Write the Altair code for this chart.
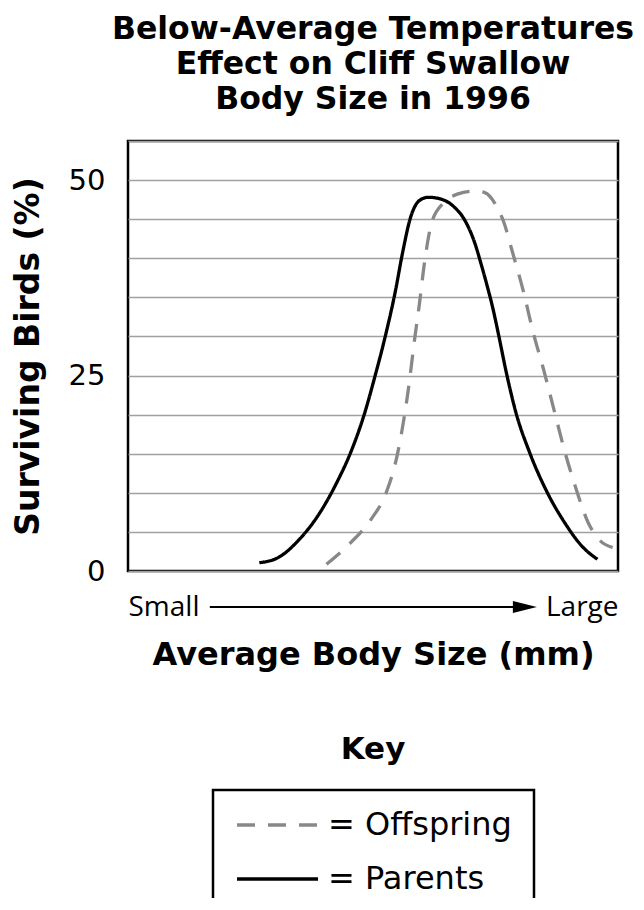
import altair as alt
import pandas as pd

# ---- data ----
parents_size = [26.8, 30.6, 34.9, 39.1, 42.6, 45.4, 48.2, 50.4, 52.5, 54.6, 56.0, 57.7, 59.5, 61.3,
                63.7, 66.5, 68.7, 70.8, 72.0, 73.2, 74.5, 75.7, 77.1, 79.2, 82.0, 85.6, 89.1, 92.6, 95.8]
parents_pct = [1.06, 1.7, 4.0, 7.4, 11.3, 15.1, 20.0, 24.9, 30.0, 35.9, 40.6, 45.3, 47.4, 47.8,
               47.6, 46.6, 44.9, 41.9, 39.4, 36.7, 33.5, 30.0, 25.7, 20.2, 15.1, 10.0, 6.2, 3.2, 1.5]

offspring_size = [40.5, 45.4, 49.6, 52.8, 54.9, 56.3, 57.4, 58.4, 59.5, 60.5, 62.0, 64.4, 67.2, 70.7,
                  72.8, 75.0, 76.7, 78.5, 80.6, 82.7, 84.8, 86.9, 89.0, 91.5, 93.9, 96.1, 98.9]
offspring_pct = [0.86, 3.6, 6.6, 10.2, 14.7, 19.4, 24.1, 29.2, 34.3, 39.4, 44.6, 47.1, 48.2, 48.6,
                 48.4, 46.9, 44.6, 40.7, 36.0, 30.5, 25.8, 20.7, 15.6, 10.4, 6.2, 4.05, 3.0]

series_names = ["Offspring", "Parents"]
series_colors = ["#888888", "#000000"]
series_dashes = [[18, 13], [1, 0]]

y_grid_values = list(range(0, 56, 5))
y_label_values = [0, 25, 50]
x_end_values = [0, 100]
x_end_labels = ["Small", "Large"]

arrow_start = [16.7]
arrow_end = [81.0]

title_lines = ["Below-Average Temperatures", "Effect on Cliff Swallow", "Body Size in 1996"]
key_text = ["Key"]
x_title = "Average Body Size (mm)"
y_title = "Surviving Birds (%)"

# ---- tables ----
rows = []
for s, p in zip(offspring_size, offspring_pct):
    rows.append({"series": "Offspring", "size": s, "pct": p})
for s, p in zip(parents_size, parents_pct):
    rows.append({"series": "Parents", "size": s, "pct": p})
df = pd.DataFrame(rows)

arrow_df = pd.DataFrame({"start": arrow_start, "end": arrow_end})
key_df = pd.DataFrame({"t": key_text})

x_scale = alt.Scale(domain=[0, 100], nice=False, zero=False)
y_scale = alt.Scale(domain=[0, 55], nice=False)

legend = alt.Legend(
    title=None,
    orient="none",
    legendX=85,
    legendY=649,
    direction="vertical",
    symbolType="stroke",
    symbolSize=6561,
    symbolStrokeWidth=3.3,
    clipHeight=26,
    rowPadding=22,
    padding=22,
    labelOffset=8,
    labelLimit=400,
    labelFont="DejaVu Sans",
    labelFontSize=32,
    labelColor="black",
    labelExpr="'= ' + datum.label",
    strokeColor="black",
)

x_axis = alt.Axis(
    values=x_end_values,
    labelExpr=f"datum.value == {x_end_values[0]} ? '{x_end_labels[0]}' : '{x_end_labels[1]}'",
    labelFlush=True,
    ticks=False,
    domain=False,
    grid=False,
    labelFont="Open Sans",
    labelFontSize=28,
    labelColor="black",
    labelPadding=22,
    title=x_title,
    titleFont="DejaVu Sans",
    titleFontSize=32,
    titleFontWeight="bold",
    titleColor="black",
    titlePadding=18,
)

lines = alt.Chart(df).mark_line(strokeWidth=3.3, interpolate="monotone", strokeCap="butt").encode(
    x=alt.X("size:Q", scale=x_scale, axis=x_axis, title=x_title),
    y=alt.Y(
        "pct:Q",
        scale=y_scale,
        axis=alt.Axis(
            values=y_grid_values,
            labelExpr=f"indexof({y_label_values}, datum.value) >= 0 ? datum.label : ''",
            labelOverlap=False,
            ticks=False,
            domain=False,
            grid=True,
            gridColor="#a0a0a0",
            gridWidth=1.5,
            labelFont="DejaVu Sans",
            labelFontSize=29,
            labelColor="black",
            labelPadding=23,
            title=y_title,
            titleFont="DejaVu Sans",
            titleFontSize=33,
            titleFontWeight="bold",
            titleColor="black",
            titlePadding=23,
        ),
    ),
    color=alt.Color("series:N", scale=alt.Scale(domain=series_names, range=series_colors), legend=legend),
    strokeDash=alt.StrokeDash("series:N", scale=alt.Scale(domain=series_names, range=series_dashes), legend=legend),
)

rule = alt.Chart(arrow_df).mark_rule(color="black", strokeWidth=2.2).encode(
    x=alt.X("start:Q", scale=x_scale, title=x_title),
    x2="end:Q",
    y=alt.value(466),
)

head = alt.Chart(arrow_df).mark_point(
    shape="M-1,-0.5L1,0L-1,0.5Z", filled=True, color="black", size=576, opacity=1, strokeWidth=0
).encode(
    x=alt.X("end:Q", scale=x_scale, title=x_title),
    y=alt.value(466),
)

key = alt.Chart(key_df).mark_text(
    font="DejaVu Sans", fontSize=31, fontWeight="bold", color="black", align="center", baseline="middle"
).encode(
    text="t:N",
    x=alt.value(245),
    y=alt.value(609),
)

chart = alt.layer(lines, rule, head, key).properties(
    width=490,
    height=430,
    autosize=alt.AutoSizeParams(type="none"),
    padding={"left": 120, "top": 133, "right": 18, "bottom": 327},
    title=alt.TitleParams(
        text=title_lines,
        font="DejaVu Sans",
        fontSize=31.5,
        fontWeight="bold",
        color="black",
        lineHeight=35,
        anchor="middle",
        frame="group",
        baseline="bottom",
        offset=-20,
    ),
).configure_view(stroke="black", strokeWidth=2.5).configure_legend(strokeWidth=2.5)

chart.save("out.html", embed_options={"renderer": "svg", "actions": False})
